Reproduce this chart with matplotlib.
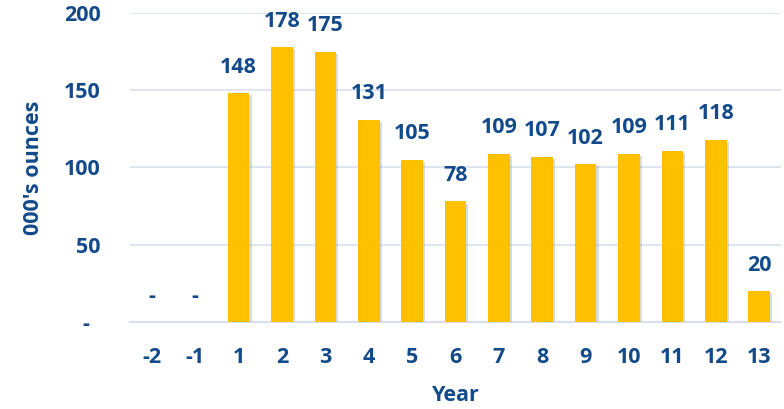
import matplotlib.pyplot as plt
import matplotlib.patheffects as pe
import numpy as np

years = ['-2', '-1', '1', '2', '3', '4', '5', '6', '7', '8', '9', '10', '11', '12', '13']
ounces = [0, 0, 148, 178, 175, 131, 105, 78, 109, 107, 102, 109, 111, 118, 20]
labels = ['-', '-', '148', '178', '175', '131', '105', '78', '109', '107', '102', '109', '111', '118', '20']
yticks = [0, 50, 100, 150, 200]
ytick_labels = ['-  ', '50', '100', '150', '200']

blue = '#124A8A'
gold = '#FFC000'
grid = '#D6E0EE'
fs = 15.5

plt.rcParams['font.family'] = ['Open Sans', 'DejaVu Sans']
plt.rcParams['font.weight'] = 'bold'

fig = plt.figure(figsize=(7.84, 4.09), dpi=100)
ax = fig.add_axes([0.166, 0.213, 0.830, 0.755])

x = np.arange(len(years))
bars = ax.bar(x, ounces, width=0.5, color=gold, zorder=3)
for b in bars:
    b.set_path_effects([pe.SimplePatchShadow(offset=(1.5, -1.5), shadow_rgbFace='#999999', alpha=0.35), pe.Normal()])

for xi, v, lab in zip(x, ounces, labels):
    ax.annotate(lab, (xi, v), xytext=(0, 11), textcoords='offset points',
                ha='center', va='bottom', color=blue, fontsize=fs, fontweight='bold')

ax.set_xlim(-0.5, len(years) - 0.5)
ax.set_ylim(0, 200)
ax.set_yticks(yticks)
ax.set_yticklabels(ytick_labels)
ax.set_xticks(x)
ax.set_xticklabels(years)
ax.tick_params(axis='both', length=0, labelsize=fs, labelcolor=blue)
ax.tick_params(axis='y', pad=21)
ax.tick_params(axis='x', pad=18)
for t in ax.get_xticklabels() + ax.get_yticklabels():
    t.set_fontweight('bold')

ax.grid(axis='y', color=grid, linewidth=1.2, zorder=0)
for s in ['top', 'right', 'left']:
    ax.spines[s].set_visible(False)
ax.spines['bottom'].set_color(grid)
ax.spines['bottom'].set_linewidth(1.5)

ax.set_ylabel("000's ounces", color=blue, fontsize=fs, fontweight='bold', va='center')
ax.set_xlabel('Year', color=blue, fontsize=fs, fontweight='bold', va='center')
ax.yaxis.set_label_coords(-0.149, 0.5)
ax.xaxis.set_label_coords(0.5, -0.238)

fig.savefig('out.png', dpi=100)
